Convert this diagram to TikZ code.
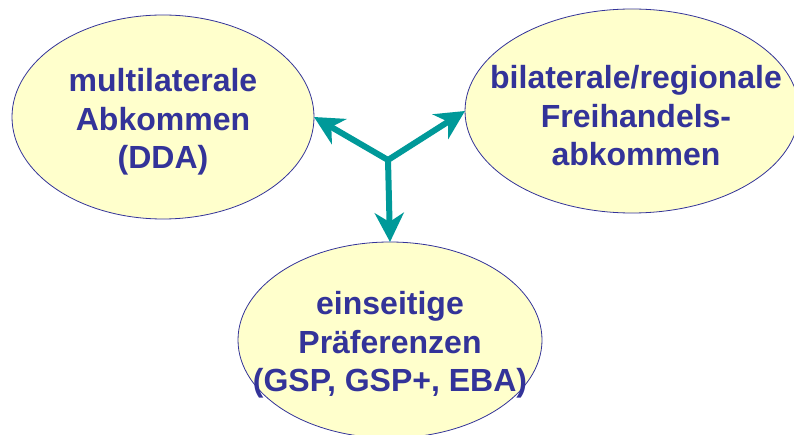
\documentclass[tikz,border=0pt]{standalone}
\usepackage{fontspec}
\setmainfont{Liberation Sans}
\usetikzlibrary{shapes.geometric,arrows.meta}
\definecolor{teal1}{HTML}{009999}
\definecolor{navy1}{HTML}{333399}
\definecolor{cream}{HTML}{FFFFCC}
\tikzset{
  bubble/.style={ellipse, draw=navy1, line width=0.8pt, fill=cream, inner sep=0pt, outer sep=0pt},
  label/.style={text=navy1, align=center, inner sep=0pt, font=\bfseries\fontsize{32}{38.5}\selectfont},
  arr/.style={draw=teal1, line width=6pt, -{Stealth[length=29pt,width=29pt,inset=9pt]}}
}
\begin{document}
\begin{tikzpicture}[x=1pt,y=-1pt]
\useasboundingbox (0,0) rectangle (794,435);
\node[bubble, minimum width=302pt, minimum height=204pt] (multi) at (163,117) {};
\node[label] (multit) at (163,122) {multilaterale\\Abkommen\\(DDA)};
\node[bubble, minimum width=334pt, minimum height=204pt] (bi) at (632,111) {};
\node[label] (bit) at (636,116) {bilaterale/regionale\\Freihandels-\\abkommen};
\node[bubble, minimum width=304pt, minimum height=196pt] (uni) at (390,340) {};
\node[label] (unit) at (390,345) {einseitige\\Präferenzen\\(GSP, GSP+, EBA)};
\coordinate (j) at (388,160);
\draw[arr] (j) -- (multi.east);
\draw[arr] (j) -- (bi.west);
\draw[arr] (j) -- (uni.north);
\end{tikzpicture}
\end{document}
